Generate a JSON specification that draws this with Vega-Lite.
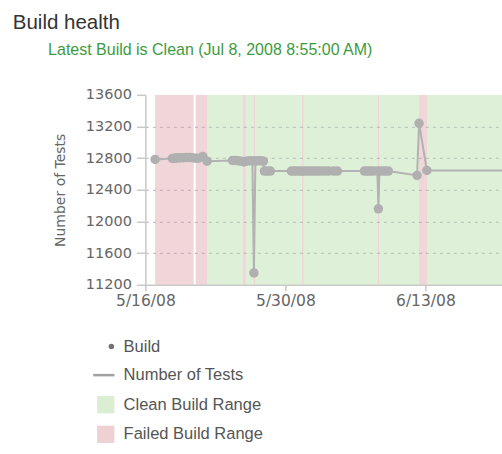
{
  "$schema": "https://vega.github.io/schema/vega-lite/v6.json",
  "background": "white",
  "padding": {"left": 12.4, "top": 11.8, "right": 0, "bottom": 0},
  "title": {"text": "Build health", "anchor": "start", "frame": "group", "font": "Liberation Sans", "fontSize": 20.5, "fontWeight": "normal", "color": "#333333", "dx": -132.6, "offset": 8.8},
  "datasets": {
    "ranges": [
      {"start": "2008-05-16T23:17", "end": "2008-05-20T19:55", "status": "Failed Build Range"},
      {"start": "2008-05-21T00:43", "end": "2008-05-22T04:05", "status": "Failed Build Range"},
      {"start": "2008-05-22T04:05", "end": "2008-05-25T17:30", "status": "Clean Build Range"},
      {"start": "2008-05-25T17:30", "end": "2008-05-26T00:45", "status": "Failed Build Range"},
      {"start": "2008-05-26T00:45", "end": "2008-05-26T19:55", "status": "Clean Build Range"},
      {"start": "2008-05-26T19:55", "end": "2008-05-27T00:00", "status": "Failed Build Range"},
      {"start": "2008-05-27T00:00", "end": "2008-05-31T16:05", "status": "Clean Build Range"},
      {"start": "2008-05-31T16:05", "end": "2008-05-31T20:00", "status": "Failed Build Range"},
      {"start": "2008-05-31T20:00", "end": "2008-06-08T05:30", "status": "Clean Build Range"},
      {"start": "2008-06-08T05:30", "end": "2008-06-08T09:36", "status": "Failed Build Range"},
      {"start": "2008-06-08T09:36", "end": "2008-06-12T08:50", "status": "Clean Build Range"},
      {"start": "2008-06-12T08:50", "end": "2008-06-13T04:05", "status": "Failed Build Range"},
      {"start": "2008-06-13T04:05", "end": "2008-07-08T08:55", "status": "Clean Build Range"}
    ],
    "builds": [
      {"time": "2008-05-16T23:17", "tests": 12784},
      {"time": "2008-05-18T16:48", "tests": 12796},
      {"time": "2008-05-18T21:36", "tests": 12800},
      {"time": "2008-05-19T02:24", "tests": 12802},
      {"time": "2008-05-19T07:12", "tests": 12804},
      {"time": "2008-05-19T12:00", "tests": 12806},
      {"time": "2008-05-19T19:12", "tests": 12806},
      {"time": "2008-05-20T02:24", "tests": 12808},
      {"time": "2008-05-20T09:36", "tests": 12808},
      {"time": "2008-05-20T16:48", "tests": 12806},
      {"time": "2008-05-21T00:00", "tests": 12800},
      {"time": "2008-05-21T07:12", "tests": 12800},
      {"time": "2008-05-21T18:00", "tests": 12822},
      {"time": "2008-05-22T04:05", "tests": 12762},
      {"time": "2008-05-24T16:48", "tests": 12770},
      {"time": "2008-05-25T00:00", "tests": 12770},
      {"time": "2008-05-25T07:12", "tests": 12766},
      {"time": "2008-05-25T14:24", "tests": 12762},
      {"time": "2008-05-25T20:24", "tests": 12752},
      {"time": "2008-05-26T02:24", "tests": 12762},
      {"time": "2008-05-26T09:36", "tests": 12766},
      {"time": "2008-05-26T16:48", "tests": 12766},
      {"time": "2008-05-26T20:24", "tests": 11350},
      {"time": "2008-05-27T00:00", "tests": 12766},
      {"time": "2008-05-27T07:12", "tests": 12766},
      {"time": "2008-05-27T14:24", "tests": 12766},
      {"time": "2008-05-27T19:12", "tests": 12762},
      {"time": "2008-05-27T21:36", "tests": 12636},
      {"time": "2008-05-28T04:48", "tests": 12636},
      {"time": "2008-05-28T12:00", "tests": 12636},
      {"time": "2008-05-30T14:24", "tests": 12636},
      {"time": "2008-05-30T21:36", "tests": 12636},
      {"time": "2008-05-31T04:48", "tests": 12636},
      {"time": "2008-05-31T12:00", "tests": 12636},
      {"time": "2008-05-31T18:00", "tests": 12636},
      {"time": "2008-06-01T00:00", "tests": 12636},
      {"time": "2008-06-01T07:12", "tests": 12636},
      {"time": "2008-06-01T14:24", "tests": 12636},
      {"time": "2008-06-01T21:36", "tests": 12636},
      {"time": "2008-06-02T04:48", "tests": 12636},
      {"time": "2008-06-02T12:00", "tests": 12636},
      {"time": "2008-06-02T21:36", "tests": 12636},
      {"time": "2008-06-03T07:12", "tests": 12636},
      {"time": "2008-06-03T19:12", "tests": 12636},
      {"time": "2008-06-04T04:48", "tests": 12636},
      {"time": "2008-06-06T21:36", "tests": 12636},
      {"time": "2008-06-07T04:48", "tests": 12636},
      {"time": "2008-06-07T12:00", "tests": 12636},
      {"time": "2008-06-07T19:12", "tests": 12636},
      {"time": "2008-06-08T04:48", "tests": 12636},
      {"time": "2008-06-08T07:12", "tests": 12160},
      {"time": "2008-06-08T09:36", "tests": 12636},
      {"time": "2008-06-08T16:48", "tests": 12636},
      {"time": "2008-06-09T00:00", "tests": 12636},
      {"time": "2008-06-09T07:12", "tests": 12636},
      {"time": "2008-06-12T04:05", "tests": 12582},
      {"time": "2008-06-12T08:50", "tests": 13240},
      {"time": "2008-06-13T03:36", "tests": 12645},
      {"time": "2008-07-08T08:55", "tests": 12645}
    ]
  },
  "resolve": {"legend": {"color": "independent"}},
  "vconcat": [
    {
      "title": {"text": "Latest Build is Clean (Jul 8, 2008 8:55:00 AM)", "anchor": "start", "frame": "group", "font": "Liberation Sans", "fontSize": 16, "fontWeight": "normal", "color": "#3d9b3d", "dx": -97.3, "offset": 29},
      "width": 360,
      "height": 190,
      "layer": [
        {
          "data": {"name": "ranges"},
          "mark": {"type": "rect", "opacity": 0.4, "clip": true},
          "encoding": {
            "x": {"field": "start", "type": "temporal", "title": null,
              "scale": {"domain": [{"year": 2008, "month": 5, "date": 16}, {"year": 2008, "month": 6, "date": 21}]},
              "axis": {"values": [{"year": 2008, "month": 5, "date": 16}, {"year": 2008, "month": 5, "date": 30}, {"year": 2008, "month": 6, "date": 13}], "format": "%-m/%-d/%y", "tickCount": 10}},
            "x2": {"field": "end"},
            "color": {"field": "status", "type": "nominal",
              "scale": {"domain": ["Build", "Number of Tests", "Clean Build Range", "Failed Build Range"], "range": ["#737373", "#a0a0a0", "#afda9e", "#da999e"]},
              "legend": {
                "orient": "none", "legendX": -48.3, "legendY": 243.5, "direction": "vertical", "title": null,
                "labelFont": "Liberation Sans", "labelFontSize": 16.5, "labelColor": "#555555", "labelOffset": 10,
                "symbolSize": 300, "symbolStrokeWidth": 0, "rowPadding": 11.6, "padding": 0, "symbolOpacity": 1,
                "encode": {"symbols": {"update": {
                  "shape": {"signal": "datum.value === 'Build' ? 'circle' : datum.value === 'Number of Tests' ? 'stroke' : 'square'"},
                  "size": {"signal": "datum.value === 'Build' ? 30 : datum.value === 'Number of Tests' ? 450 : 300"},
                  "x": {"signal": "datum.value === 'Build' ? 14.3 : datum.value === 'Number of Tests' ? 6.7 : 8.65"},
                  "stroke": {"signal": "datum.value === 'Number of Tests' ? '#a0a0a0' : 'transparent'"},
                  "strokeWidth": {"signal": "datum.value === 'Number of Tests' ? 2.5 : 0"},
                  "opacity": {"signal": "datum.value === 'Build' || datum.value === 'Number of Tests' ? 1 : 0.45"}
                }}}
              }}
          }
        },
        {
          "data": {"name": "builds"},
          "mark": {"type": "line", "color": "#b2b2b2", "strokeWidth": 2, "clip": true},
          "encoding": {
            "x": {"field": "time", "type": "temporal", "title": null,
              "scale": {"domain": [{"year": 2008, "month": 5, "date": 16}, {"year": 2008, "month": 6, "date": 21}]}},
            "y": {"field": "tests", "type": "quantitative", "title": "Number of Tests",
              "scale": {"domain": [11200, 13600], "nice": false, "zero": false},
              "axis": {"values": [11200, 11600, 12000, 12400, 12800, 13200, 13600], "tickCount": 12, "format": "d", "labelOverlap": false,
                "gridOpacity": {"condition": {"test": "datum.value <= 11200 || datum.value >= 13600", "value": 0}, "value": 1}}}
          }
        },
        {
          "data": {"name": "builds"},
          "mark": {"type": "circle", "color": "#b0b0b0", "size": 90, "opacity": 1, "clip": true},
          "encoding": {
            "x": {"field": "time", "type": "temporal", "title": null,
              "scale": {"domain": [{"year": 2008, "month": 5, "date": 16}, {"year": 2008, "month": 6, "date": 21}]}},
            "y": {"field": "tests", "type": "quantitative", "title": "Number of Tests",
              "scale": {"domain": [11200, 13600], "nice": false, "zero": false}}
          }
        }
      ]
    }
  ],
  "config": {
    "view": {"stroke": null},
    "concat": {"spacing": 0},
    "axis": {"domainColor": "#c8c8c8", "domainWidth": 1.5, "tickColor": "#c8c8c8", "tickWidth": 1.5, "labelColor": "#666666", "labelFont": "DejaVu Sans", "titleFont": "DejaVu Sans", "titleColor": "#666666", "titleFontWeight": "normal"},
    "axisX": {"grid": false, "labelFontSize": 15.5, "tickSize": 6, "labelPadding": 3, "labelFlush": false, "labelAngle": 0},
    "axisY": {"grid": true, "gridColor": "#b4b4c8", "gridDash": [3, 4], "gridWidth": 1, "labelFontSize": 14.5, "tickSize": 9, "labelPadding": 5, "titleFontSize": 14, "titlePadding": 18}
  }
}
